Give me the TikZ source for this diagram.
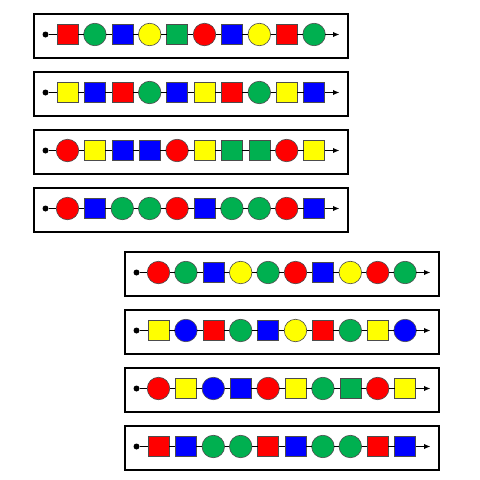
\documentclass[tikz,border=0pt]{standalone}
\usetikzlibrary{arrows.meta}
\definecolor{cR}{RGB}{255,0,0}
\definecolor{cG}{RGB}{0,176,80}
\definecolor{cB}{RGB}{0,0,255}
\definecolor{cY}{RGB}{255,255,0}
\begin{document}
\begin{tikzpicture}[x=1pt,y=-1pt,
  frame/.style={draw=black,line width=2pt,fill=white},
  shp/.style={draw=black!70,line width=0.6pt,inner sep=0pt,outer sep=0pt},
  sq/.style={shp,rectangle,minimum width=21pt,minimum height=20.5pt},
  cir/.style={shp,circle,minimum size=22.5pt},
  Rs/.style={sq,fill=cR}, Gs/.style={sq,fill=cG}, Bs/.style={sq,fill=cB}, Ys/.style={sq,fill=cY},
  Rc/.style={cir,fill=cR}, Gc/.style={cir,fill=cG}, Bc/.style={cir,fill=cB}, Yc/.style={cir,fill=cY},
  startdot/.style={circle,fill=black,inner sep=0pt,minimum size=6pt},
  conn/.style={draw=black,line width=1.7pt},
  lastconn/.style={conn,-{Latex[length=6.5pt,width=5.5pt]}}]
\useasboundingbox (0,0) rectangle (480,480);
\foreach \r/\bx/\by/\seq in {
  1/33/13/{Rs,Gc,Bs,Yc,Gs,Rc,Bs,Yc,Rs,Gc},
  2/33/71/{Ys,Bs,Rs,Gc,Bs,Ys,Rs,Gc,Ys,Bs},
  3/33/129/{Rc,Ys,Bs,Bs,Rc,Ys,Gs,Gs,Rc,Ys},
  4/33/187/{Rc,Bs,Gc,Gc,Rc,Bs,Gc,Gc,Rc,Bs},
  5/124/251/{Rc,Gc,Bs,Yc,Gc,Rc,Bs,Yc,Rc,Gc},
  6/124/309/{Ys,Bc,Rs,Gc,Bs,Yc,Rs,Gc,Ys,Bc},
  7/124/367/{Rc,Ys,Bc,Bs,Rc,Ys,Gc,Gs,Rc,Ys},
  8/124/425/{Rs,Bs,Gc,Gc,Rs,Bs,Gc,Gc,Rs,Bs}}{
  \node[frame,minimum width=314pt,minimum height=44pt,anchor=north west,inner sep=0pt] (box\r) at (\bx,\by) {};
  \node[startdot] (r\r n0) at (\bx+12.5,\by+21.5) {};
  \coordinate (r\r n11) at (\bx+306.5,\by+21.5);
  \foreach \c [count=\i] in \seq {
    \node[\c] (r\r n\i) at (\bx+34.5+27.4*\i-27.4,\by+21.5) {};
  }
  \foreach \i in {1,...,10} {
    \pgfmathtruncatemacro{\j}{\i-1}
    \draw[conn] (r\r n\j) -- (r\r n\i);
  }
  \draw[lastconn] (r\r n10) -- (r\r n11);
}
\end{tikzpicture}
\end{document}
